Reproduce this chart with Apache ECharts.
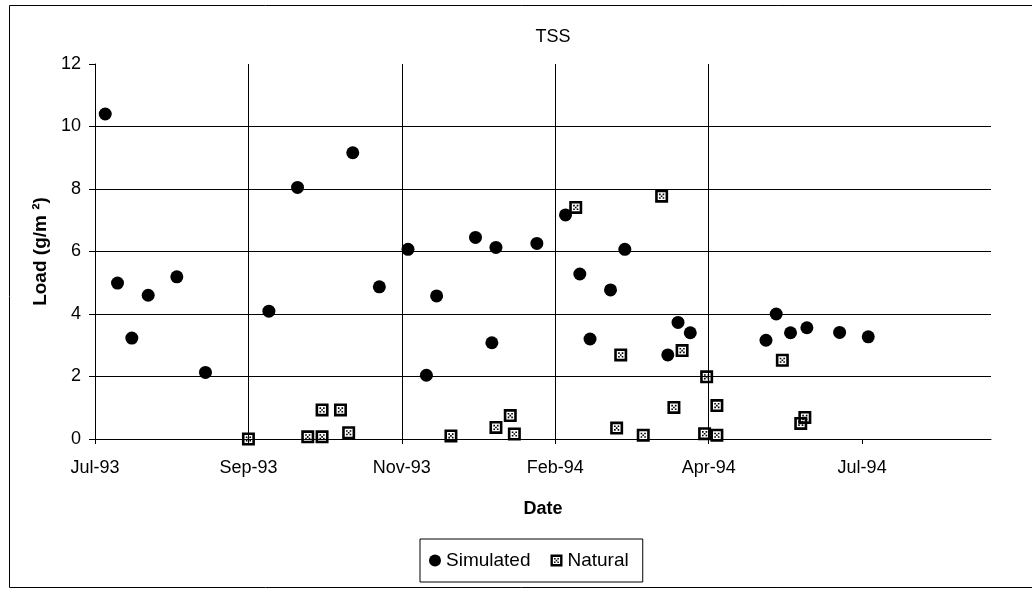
<!DOCTYPE html>
<html>
<head>
<meta charset="utf-8">
<script src="https://cdn.jsdelivr.net/npm/echarts@6/dist/echarts.min.js"></script>
<style>
html,body{margin:0;padding:0;background:#fff;}
#chart{width:1032px;height:590px;}
</style>
</head>
<body>
<div id="chart"></div>
<script>
// Days counted from 1 Jul 1993
var simDay  = [5, 11, 18, 26, 40, 54, 85, 99, 126, 139, 153, 162, 167, 186, 194, 196, 216, 230, 237, 242, 252, 259, 280, 285, 291, 328, 333, 340, 348, 364, 378];
var simLoad = [10.4, 4.99, 3.23, 4.6, 5.19, 2.13, 4.09, 8.05, 9.16, 4.87, 6.07, 2.04, 4.58, 6.45, 3.08, 6.13, 6.26, 7.17, 5.28, 3.2, 4.77, 6.07, 2.69, 3.73, 3.4, 3.16, 4.0, 3.4, 3.56, 3.41, 3.27];
var natDay  = [75, 104, 111, 111, 120, 124, 174, 196, 203, 205, 235, 277, 257, 287, 255, 268, 283, 299, 304, 298, 304, 336, 347, 345];
var natLoad = [0, 0.07, 0.07, 0.93, 0.93, 0.2, 0.1, 0.37, 0.75, 0.16, 7.41, 7.77, 2.69, 2.83, 0.35, 0.12, 1.01, 1.99, 1.07, 0.17, 0.12, 2.52, 0.69, 0.5];
var dateTicks = ['Jul-93', 'Sep-93', 'Nov-93', 'Feb-94', 'Apr-94', 'Jul-94'];
var tickStep = 75;      // days between date ticks
var dayMax = 438;       // right end of the date axis
var yTicks = [0, 2, 4, 6, 8, 10, 12];

function pairs(xs, ys) { return xs.map(function (x, i) { return [x, ys[i]]; }); }

var natSymbol = 'path://M0,0H12V12H0Z M2.4,2.4V9.6H9.6V2.4Z M3.6,3.6h1.5v1.5h-1.5z M6.9,3.6h1.5v1.5h-1.5z M5.25,5.25h1.5v1.5h-1.5z M3.6,6.9h1.5v1.5h-1.5z M6.9,6.9h1.5v1.5h-1.5z';
var FONT = 'Liberation Sans, Arial, sans-serif';
var tickVals = dateTicks.map(function (t, i) { return i * tickStep; });

var chart = echarts.init(document.getElementById('chart'), null, {renderer: 'canvas'});
chart.setOption({
  backgroundColor: '#fff',
  animation: false,
  textStyle: {fontFamily: FONT, color: '#000'},
  graphic: [{
    type: 'rect', silent: true,
    shape: {x: 9.5, y: 5.5, width: 1040, height: 582},
    style: {fill: 'none', stroke: '#000', lineWidth: 1}
  }],
  title: {
    text: 'TSS', left: 553, top: 28, textAlign: 'center', padding: 0,
    textStyle: {fontFamily: FONT, fontSize: 18, fontWeight: 'normal', color: '#000'}
  },
  grid: {left: 95, right: 41, top: 64, bottom: 151, containLabel: false},
  legend: {
    left: 420, top: 539,
    padding: [12, 14, 12, 9],
    borderColor: '#000', borderWidth: 1,
    itemWidth: 12, itemHeight: 12, itemGap: 20,
    textStyle: {fontFamily: FONT, fontSize: 19, color: '#000'},
    data: [{name: 'Simulated', icon: 'circle'}, {name: 'Natural', icon: natSymbol}]
  },
  xAxis: {
    type: 'value', min: 0, max: dayMax, interval: tickStep,
    name: 'Date', nameLocation: 'middle', nameGap: 61,
    nameTextStyle: {fontFamily: FONT, fontSize: 18, fontWeight: 'bold', color: '#000'},
    axisLine: {show: true, lineStyle: {color: '#000', width: 1}},
    axisTick: {show: true, inside: false, length: 5, lineStyle: {color: '#000'}, customValues: tickVals},
    axisLabel: {
      margin: 20, fontFamily: FONT, fontSize: 18, color: '#000',
      customValues: tickVals,
      formatter: function (v) {
        var i = Math.round(v / tickStep);
        return (Math.abs(v - i * tickStep) < 0.5 && dateTicks[i]) ? dateTicks[i] : '';
      }
    },
    splitLine: {show: true, showMinLine: false, showMaxLine: false, lineStyle: {color: '#000', width: 1}}
  },
  yAxis: {
    type: 'value', min: yTicks[0], max: yTicks[yTicks.length - 1], interval: 2,
    name: 'Load (g/m \u00b2)', nameLocation: 'middle', nameGap: 43,
    nameTextStyle: {fontFamily: FONT, fontSize: 19, fontWeight: 'bold', color: '#000'},
    axisLine: {show: true, lineStyle: {color: '#000', width: 1}},
    axisTick: {show: true, inside: false, length: 6, lineStyle: {color: '#000'}},
    axisLabel: {margin: 14, fontFamily: FONT, fontSize: 18, color: '#000'},
    splitLine: {show: true, showMinLine: false, showMaxLine: false, lineStyle: {color: '#000', width: 1}}
  },
  series: [{
    name: 'Simulated', type: 'scatter', symbol: 'circle', symbolSize: 13,
    itemStyle: {color: '#000', opacity: 1},
    data: pairs(simDay, simLoad)
  }, {
    name: 'Natural', type: 'scatter', symbol: natSymbol, symbolSize: 13,
    itemStyle: {color: '#000', opacity: 1},
    data: pairs(natDay, natLoad)
  }]
});
</script>
</body>
</html>
